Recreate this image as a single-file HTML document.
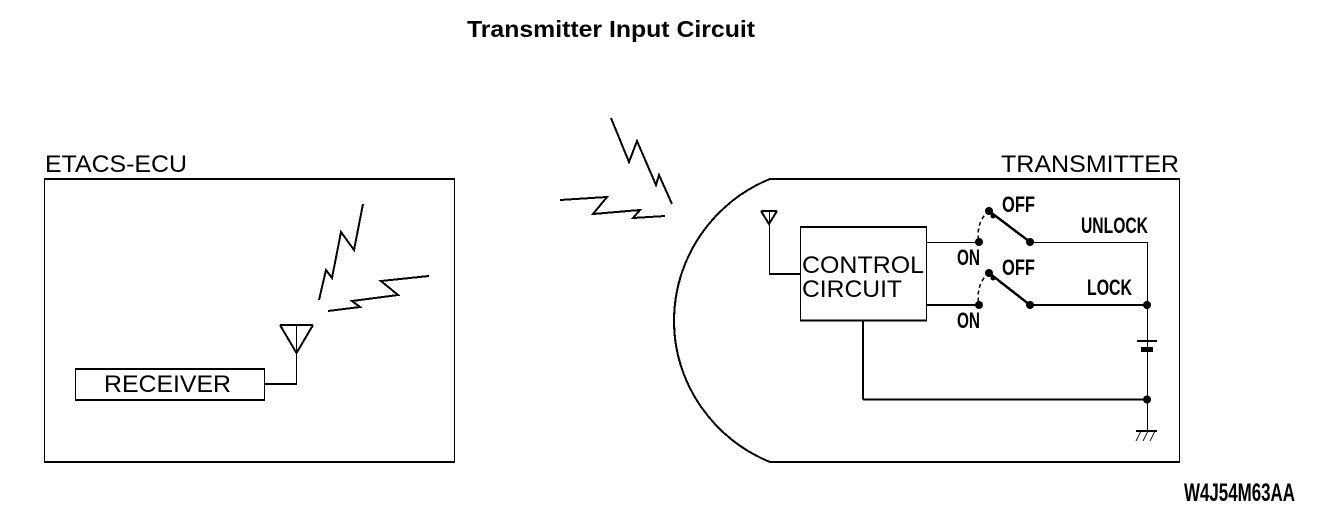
<!DOCTYPE html>
<html><head><meta charset="utf-8"><style>
html,body{margin:0;padding:0;background:#fff}
svg{display:block}
text{font-family:"Liberation Sans",sans-serif;fill:#000}
.l{font-size:24px}
.s{font-size:22px;font-weight:bold}
</style></head><body>
<svg width="1328" height="514" viewBox="0 0 1328 514" xmlns="http://www.w3.org/2000/svg">
<text x="467" y="37" font-size="23" font-weight="bold" textLength="288" lengthAdjust="spacingAndGlyphs">Transmitter Input Circuit</text>
<g fill="none" stroke="#000" stroke-width="1" shape-rendering="crispEdges">
<path d="M44.500 179V462M454.500 179V462M1179.500 179V462"/>
<path d="M44 179H455M44 462H455M770 462H1180" stroke-width="2"/>
<path d="M1180 179H770C715 201 674 256 674 321C674 385 715 440 770 462" stroke-width="2"/>
<path d="M75.500 368V400M264.500 368V400"/>
<path d="M75 369H265M75 400H265" stroke-width="2"/>
<path d="M800.500 226V321M926.500 226V321"/>
<path d="M800 227H927M800 320.500H927" stroke-width="2"/>
<path d="M280 325H313" stroke-width="2"/>
<path d="M280 325L296.500 353L313 325" stroke-width="2"/>
<path d="M296.500 325V384"/>
<path d="M265 384H297" stroke-width="2"/>
<path d="M761 211H777" stroke-width="2"/>
<path d="M761 211L769 224L777 211" stroke-width="2"/>
<path d="M769.500 211V274"/>
<path d="M769 274H800" stroke-width="2"/>
<path d="M926 242.500H979M1030 242.500H1147.500V431"/>
<path d="M926 305H979M1030 305H1147M863 321V399.500M863 399.500H1147" stroke-width="2"/>
<path d="M989 211L1030 242M989 273L1030 305" stroke-width="2.500"/>
<path d="M989 211C982 216 976 227 979 242M989 273C982 278 976 289 979 305" stroke-width="1.500" stroke-dasharray="4 3"/>
<path d="M1137 341H1157" stroke-width="2"/>
<path d="M1141 349.500H1153" stroke-width="5"/>
<path d="M1136 431H1157" stroke-width="2"/>
<path d="M1141 431L1136 441M1148 431L1143 441M1155 431L1150 441"/>
<g stroke-width="2">
<path d="M611 118L629 162L637 141L656 185L659 175L672 204"/>
<path d="M560 200L607 197L593 214L640 210L633 218L665 216"/>
<path d="M363 204L354 250L341 232L332 278L326 270L319 300"/>
<path d="M429 276L381 281L398 295L352 301L360 307L328 311"/>
</g>
</g>
<g fill="#000">
<circle cx="989" cy="211" r="4"/><circle cx="979" cy="242" r="4"/><circle cx="1030" cy="242" r="4"/>
<circle cx="989" cy="273" r="4"/><circle cx="979" cy="305" r="4"/><circle cx="1030" cy="305" r="4"/>
<circle cx="993" cy="216" r="2.500"/><circle cx="993" cy="278" r="2.500"/>
<circle cx="1147" cy="305" r="4"/><circle cx="1147" cy="399.500" r="4"/>
</g>
<text class="l" x="45" y="172" textLength="142" lengthAdjust="spacingAndGlyphs">ETACS-ECU</text>
<text class="l" x="1001" y="172" textLength="178" lengthAdjust="spacingAndGlyphs">TRANSMITTER</text>
<text class="l" x="104" y="392" textLength="127" lengthAdjust="spacingAndGlyphs">RECEIVER</text>
<text class="l" x="802" y="273" textLength="122" lengthAdjust="spacingAndGlyphs">CONTROL</text>
<text class="l" x="802" y="297" textLength="100" lengthAdjust="spacingAndGlyphs">CIRCUIT</text>
<text class="s" x="1002" y="212" textLength="33" lengthAdjust="spacingAndGlyphs">OFF</text>
<text class="s" x="1002" y="275" textLength="33" lengthAdjust="spacingAndGlyphs">OFF</text>
<text class="s" x="957" y="265" textLength="23" lengthAdjust="spacingAndGlyphs">ON</text>
<text class="s" x="957" y="328" textLength="23" lengthAdjust="spacingAndGlyphs">ON</text>
<text class="s" x="1081" y="233" textLength="67" lengthAdjust="spacingAndGlyphs">UNLOCK</text>
<text class="s" x="1087" y="295" textLength="45" lengthAdjust="spacingAndGlyphs">LOCK</text>
<text x="1184" y="501" font-size="25" font-weight="bold" textLength="111" lengthAdjust="spacingAndGlyphs">W4J54M63AA</text>
</svg>
</body></html>
